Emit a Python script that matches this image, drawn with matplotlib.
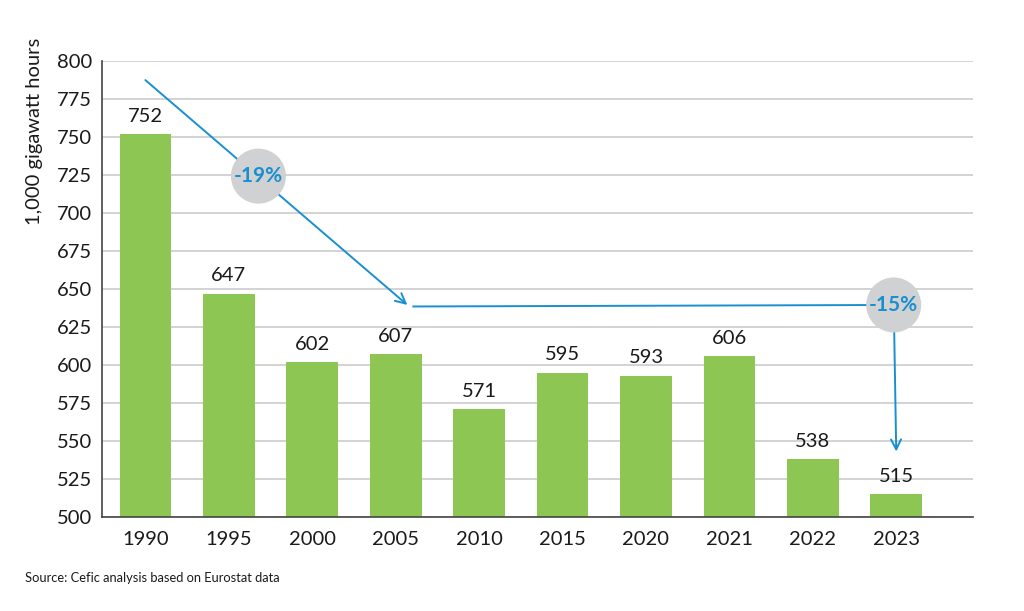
import matplotlib.pyplot as plt
from matplotlib.patches import Circle

years = ["1990", "1995", "2000", "2005", "2010", "2015", "2020", "2021", "2022", "2023"]
values = [752, 647, 602, 607, 571, 595, 593, 606, 538, 515]
yticks = list(range(500, 801, 25))

green = "#8dc653"
blue = "#1a8fd0"
grey_circle = "#d0d1d3"

plt.rcParams['font.family'] = ['Lato', 'DejaVu Sans']

fig = plt.figure(figsize=(10.24, 6.11), dpi=100)
ax = fig.add_axes([0.0996, 0.154, 0.8506, 0.746])

x = list(range(len(years)))
ax.bar(x, [v - 500 for v in values], bottom=500, width=0.62, color=green, zorder=2)
for i, v in enumerate(values):
    ax.text(i, v + 6, str(v), ha="center", va="bottom", fontsize=14.5, color="#1a1a1a", zorder=4)

ax.set_xlim(-0.52, 9.92)
ax.set_ylim(500, 800)
ax.set_yticks(yticks)
ax.set_xticks(x)
ax.set_xticklabels(years)
ax.tick_params(axis="both", length=0, labelsize=14.5, colors="#1a1a1a")
ax.tick_params(axis="x", pad=10)
ax.tick_params(axis="y", pad=7)
ax.grid(axis="y", color="#cccccc", linewidth=1.2, zorder=0)
for s in ["top", "right"]:
    ax.spines[s].set_visible(False)
ax.spines["left"].set_color("#444444")
ax.spines["bottom"].set_color("#444444")
ax.spines["left"].set_linewidth(1.2)
ax.spines["bottom"].set_linewidth(1.2)
ax.set_ylabel("1,000 gigawatt hours", fontsize=14.5, color="#1a1a1a")
ax.yaxis.set_label_coords(-0.068, 0.845)

# -19% trend arrow
ax.annotate("", xy=(3.14, 639.5), xytext=(0, 787.5),
            arrowprops=dict(arrowstyle="->", color=blue, lw=1.4,
                            mutation_scale=18, shrinkA=0, shrinkB=0), zorder=5)
# -15% path: horizontal then down
ax.plot([3.2, 8.97], [638.5, 639.5], color=blue, lw=1.4, zorder=5, solid_capstyle="butt")
ax.annotate("", xy=(9.0, 543), xytext=(8.97, 639.5),
            arrowprops=dict(arrowstyle="->", color=blue, lw=1.4,
                            mutation_scale=18, shrinkA=0, shrinkB=0), zorder=5)

# circles with labels (drawn in display space to stay round)
for cx, cy, label in [(1.355, 724.3, "-19%"), (8.97, 639.5, "-15%")]:
    px, py = ax.transData.transform((cx, cy))
    fx, fy = fig.transFigure.inverted().transform((px, py))
    circ = Circle((px, py), 27.5, transform=None, facecolor=grey_circle,
                  edgecolor="none", zorder=6)
    fig.patches.append(circ)
    fig.text(fx, fy, label, ha="center", va="center", fontsize=15,
             color=blue, fontweight="bold", zorder=7)

fig.text(0.024, 0.048, "Source: Cefic analysis based on Eurostat data",
         fontsize=9.3, color="#1a1a1a")

fig.savefig("out.png", dpi=100)
